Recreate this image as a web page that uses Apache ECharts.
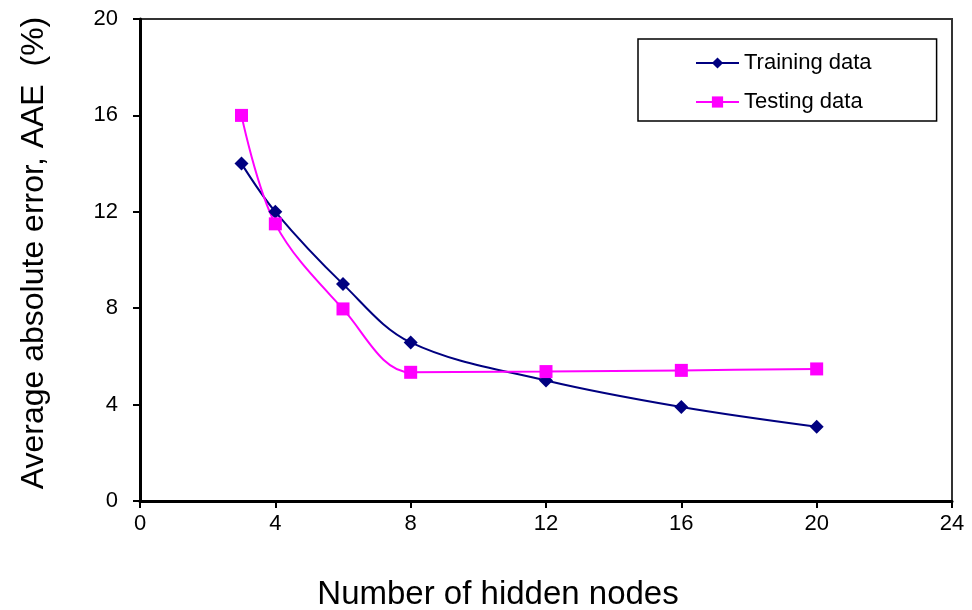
<!DOCTYPE html>
<html>
<head>
<meta charset="utf-8">
<script src="https://cdn.jsdelivr.net/npm/echarts@6/dist/echarts.min.js"></script>
<style>html,body{margin:0;padding:0;background:#fff;}#c{width:972px;height:610px;}</style>
</head>
<body>
<div id="c"></div>
<script>
const hiddenNodes = [3, 4, 6, 8, 12, 16, 20];
const trainingAAE = [14.0, 12.0, 9.0, 6.58, 5.0, 3.9, 3.08];
const testingAAE = [16.0, 11.5, 7.97, 5.34, 5.37, 5.42, 5.48];
const seriesNames = ['Training data', 'Testing data'];

const chart = echarts.init(document.getElementById('c'), null, {renderer: 'canvas'});
const font = 'Liberation Sans, Arial, sans-serif';
chart.setOption({
  animation: false,
  backgroundColor: '#fff',
  grid: {left: 140, right: 20, top: 19, bottom: 109, outerBoundsMode: 'none', containLabel: false,
    show: true, borderColor: '#333', borderWidth: 2, backgroundColor: 'transparent'},
  xAxis: {
    type: 'value', min: 0, max: 24, interval: 4,
    name: 'Number of hidden nodes', nameLocation: 'middle', nameGap: 77,
    nameTextStyle: {fontFamily: font, fontSize: 33, color: '#000', padding: [0, 96, 0, 0]},
    axisLine: {show: true, onZero: false, lineStyle: {color: '#000', width: 3}},
    axisTick: {show: true, inside: false, length: 7, lineStyle: {color: '#000', width: 2}},
    axisLabel: {fontFamily: font, fontSize: 22, color: '#000', margin: 12},
    splitLine: {show: false}
  },
  yAxis: {
    type: 'value', min: 0, max: 20, interval: 4,
    name: 'Average absolute error, AAE  (%)', nameLocation: 'middle', nameGap: 90,
    nameTextStyle: {fontFamily: font, fontSize: 32, color: '#000', padding: [0, 0, 0, 14]},
    axisLine: {show: true, onZero: false, lineStyle: {color: '#000', width: 3}},
    axisTick: {show: true, inside: false, length: 7, lineStyle: {color: '#000', width: 2}},
    axisLabel: {fontFamily: font, fontSize: 22, color: '#000', margin: 22},
    splitLine: {show: false}
  },
  legend: {
    orient: 'vertical', left: 638, top: 39,
    padding: [13, 65, 8, 57],
    itemGap: 17, itemWidth: 43, itemHeight: 14,
    borderColor: '#000', borderWidth: 1.5,
    textStyle: {fontFamily: font, fontSize: 22, color: '#000'},
    data: seriesNames
  },
  series: [
    {
      name: seriesNames[0], type: 'line', smooth: 0.35,
      data: hiddenNodes.map((x, i) => [x, trainingAAE[i]]),
      symbol: 'diamond', symbolSize: 14,
      itemStyle: {color: '#000080'},
      lineStyle: {color: '#000080', width: 2}
    },
    {
      name: seriesNames[1], type: 'line', smooth: 0.35,
      data: hiddenNodes.map((x, i) => [x, testingAAE[i]]),
      symbol: 'rect', symbolSize: 13,
      itemStyle: {color: '#FF00FF'},
      lineStyle: {color: '#FF00FF', width: 2}
    }
  ]
});
</script>
</body>
</html>
